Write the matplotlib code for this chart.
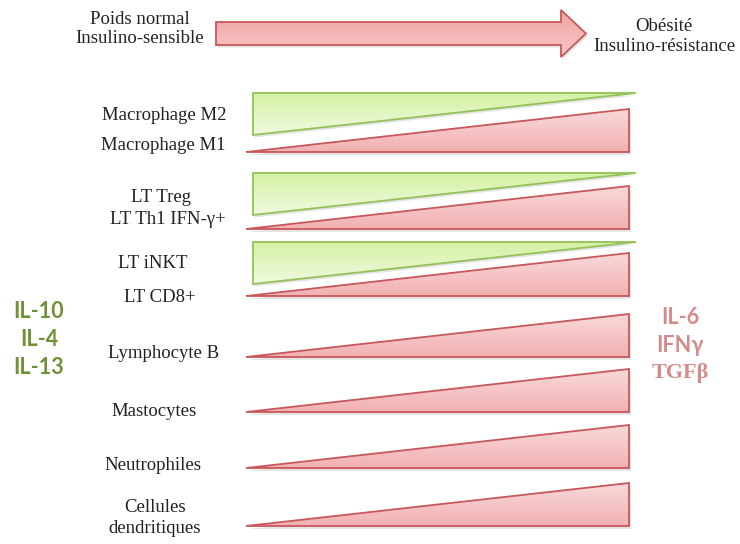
import matplotlib
matplotlib.use("Agg")
import matplotlib.pyplot as plt
import numpy as np
from matplotlib.colors import LinearSegmentedColormap
from matplotlib.patches import Polygon

# ---- content ----
start_label = "Poids normal\nInsulino-sensible"
end_label = "Obésité\nInsulino-résistance"

# green (decreasing) and red (increasing) populations per row, None = no green wedge
green_labels = ["Macrophage M2", "LT Treg", "LT iNKT", None, None, None, None]
red_labels = ["Macrophage M1", "LT Th1 IFN-γ+", "LT CD8+", "Lymphocyte B",
              "Mastocytes", "Neutrophiles", "Cellules\ndendritiques"]
anti_cytokines = ["IL-10", "IL-4", "IL-13"]
pro_cytokines = ["IL-6", "IFNγ", "TGFβ"]

# ---- layout (pixels, y down) ----
W, H = 740, 544
red_bottom = [152, 229, 296, 357, 412, 468, 526]
red_label_y = [145, 220, 297, 354, 412, 466, 518]
red_label_x = [163, 168, 160, 164, 154, 153, 155]
green_top = [93, 173, 242]
green_label_y = [115, 197, 264]
green_label_x = [164, 161, 153]
RED_X0, RED_X1, RED_H = 246, 629, 43
GRN_X0, GRN_X1, GRN_H = 253, 636, 42

RED_EDGE = "#C7585B"
GRN_EDGE = "#93C157"
SERIF = ["Liberation Serif", "DejaVu Serif"]
SANS = ["Lato", "DejaVu Sans"]


def shaded(ax, pts, top, bottom, edge, lw=1.3):
    pts = np.asarray(pts, dtype=float)
    shadow = Polygon(pts + [1.5, 2.5], closed=True, facecolor="#888888",
                     edgecolor="none", alpha=0.22, zorder=1)
    ax.add_patch(shadow)
    poly = Polygon(pts, closed=True, facecolor="none", edgecolor=edge,
                   lw=lw, joinstyle="miter", zorder=3)
    ax.add_patch(poly)
    cmap = LinearSegmentedColormap.from_list("g", [top, bottom])
    grad = np.linspace(0, 1, 256)[:, None]
    im = ax.imshow(grad, cmap=cmap, aspect="auto", zorder=2,
                   extent=(pts[:, 0].min(), pts[:, 0].max(),
                           pts[:, 1].max(), pts[:, 1].min()))
    im.set_clip_path(poly)


fig = plt.figure(figsize=(7.4, 5.44), dpi=100)
ax = fig.add_axes([0, 0, 1, 1])
ax.axis("off")

# top arrow
arrow = [(216, 22), (561, 22), (561, 10), (586, 33.5), (561, 57), (561, 45), (216, 45)]
shaded(ax, arrow, "#F2A2A3", "#F8C7C7", RED_EDGE)
ax.text(140, 29, start_label, ha="center", va="center", family=SERIF,
        fontsize=13.5, color="#222222", linespacing=1.2)
ax.text(664, 36.5, end_label, ha="center", va="center", family=SERIF,
        fontsize=13.5, color="#222222", linespacing=1.2)

for i, (g, r) in enumerate(zip(green_labels, red_labels)):
    b = red_bottom[i]
    tri = [(RED_X0, b), (RED_X1, b), (RED_X1, b - RED_H)]
    shaded(ax, tri, "#F9D9D9", "#F2B0B2", RED_EDGE)
    ax.text(red_label_x[i], red_label_y[i], r, ha="center", va="center",
            family=SERIF, fontsize=13.5, color="#222222", linespacing=1.35)
    if g is not None:
        t = green_top[i]
        gt = [(GRN_X0, t), (GRN_X1, t), (GRN_X0, t + GRN_H)]
        shaded(ax, gt, "#D5F1A4", "#F0FADF", GRN_EDGE)
        ax.text(green_label_x[i], green_label_y[i], g, ha="center", va="center",
                family=SERIF, fontsize=13.5, color="#222222")

for k, name in enumerate(anti_cytokines):
    ax.text(39, 312 + 28 * k, name, ha="center", va="center",
            family=SANS, fontweight="bold", fontsize=15.5, color="#6E9136")
for k, name in enumerate(pro_cytokines):
    fam = SERIF if name == "TGFβ" else SANS
    ax.text(680, 317 + 28 * k, name, ha="center", va="center",
            family=fam, fontweight="bold", fontsize=16 if fam is SERIF else 15.5,
            color="#D58A8C")

ax.set_xlim(0, W)
ax.set_ylim(H, 0)
fig.savefig("out.png", dpi=100, facecolor="white")
